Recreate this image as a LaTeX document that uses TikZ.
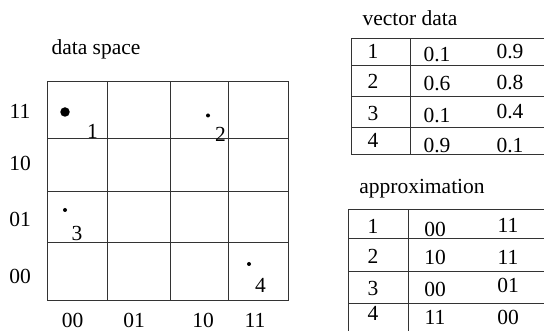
\documentclass[tikz,border=0pt]{standalone}
\usepackage{fontspec}
\setmainfont{Liberation Serif}
\begin{document}
\begin{tikzpicture}[x=1pt,y=-1pt,
  lbl/.style={inner sep=0pt,font=\fontsize{21.5}{24}\selectfont},
  gridline/.style={line width=1pt,draw=black!80},
  dot/.style={circle,fill=black,inner sep=0pt}]
\useasboundingbox (0,0) rectangle (544,331);
\clip (0,0) rectangle (544,331);
% data space
\node[lbl] (ds) at (96,49) {data space};
\draw[gridline] (47,82) rectangle (288,301);
\foreach \x in {107,170,228} \draw[gridline] (\x,82) -- (\x,301);
\foreach \y in {139,192,243} \draw[gridline] (47,\y) -- (288,\y);
\node[lbl] (r11) at (20,111.5) {11};
\node[lbl] (r10) at (20,163) {10};
\node[lbl] (r01) at (20,219) {01};
\node[lbl] (r00) at (20,276) {00};
\node[lbl] (c00) at (72.5,320) {00};
\node[lbl] (c01) at (134,320) {01};
\node[lbl] (c10) at (203,320) {10};
\node[lbl] (c11) at (255,320) {11};
\node[dot,minimum size=9.5pt] (p1) at (65,112) {};
\node[lbl] (l1) at (92.5,131.5) {1};
\node[dot,minimum size=4pt] (p2) at (208,115.5) {};
\node[lbl] (l2) at (220.5,134) {2};
\node[dot,minimum size=4pt] (p3) at (65,210) {};
\node[lbl] (l3) at (77,233.5) {3};
\node[dot,minimum size=4pt] (p4) at (249,264) {};
\node[lbl] (l4) at (260.5,285.5) {4};
% vector data
\node[lbl] (vd) at (410,18) {vector data};
\draw[gridline] (351,39) rectangle (560,155);
\draw[gridline] (410,39) -- (410,155);
\foreach \y in {66,97,128} \draw[gridline] (351,\y) -- (560,\y);
\node[lbl] (v1a) at (373,51) {1};
\node[lbl] (v1b) at (437,55) {0.1};
\node[lbl] (v1c) at (510,52) {0.9};
\node[lbl] (v2a) at (373,81) {2};
\node[lbl] (v2b) at (437,84) {0.6};
\node[lbl] (v2c) at (510,83) {0.8};
\node[lbl] (v3a) at (373,113) {3};
\node[lbl] (v3b) at (437,116) {0.1};
\node[lbl] (v3c) at (510,112) {0.4};
\node[lbl] (v4a) at (373,140) {4};
\node[lbl] (v4b) at (437,145.5) {0.9};
\node[lbl] (v4c) at (510,145.5) {0.1};
% approximation
\node[lbl] (ap) at (422,189) {approximation};
\draw[gridline] (348,210) -- (560,210);
\draw[gridline] (348,210) -- (348,340);
\draw[gridline] (408,210) -- (408,340);
\foreach \y in {239,272,304} \draw[gridline] (348,\y) -- (560,\y);
\node[lbl] (a1a) at (373,226) {1};
\node[lbl] (a1b) at (435,229) {00};
\node[lbl] (a1c) at (508,225) {11};
\node[lbl] (a2a) at (373,256) {2};
\node[lbl] (a2b) at (435,257) {10};
\node[lbl] (a2c) at (508,257) {11};
\node[lbl] (a3a) at (373,288) {3};
\node[lbl] (a3b) at (435,289) {00};
\node[lbl] (a3c) at (508,285) {01};
\node[lbl] (a4a) at (373,313.5) {4};
\node[lbl] (a4b) at (435,317) {11};
\node[lbl] (a4c) at (508,317) {00};
\end{tikzpicture}
\end{document}
